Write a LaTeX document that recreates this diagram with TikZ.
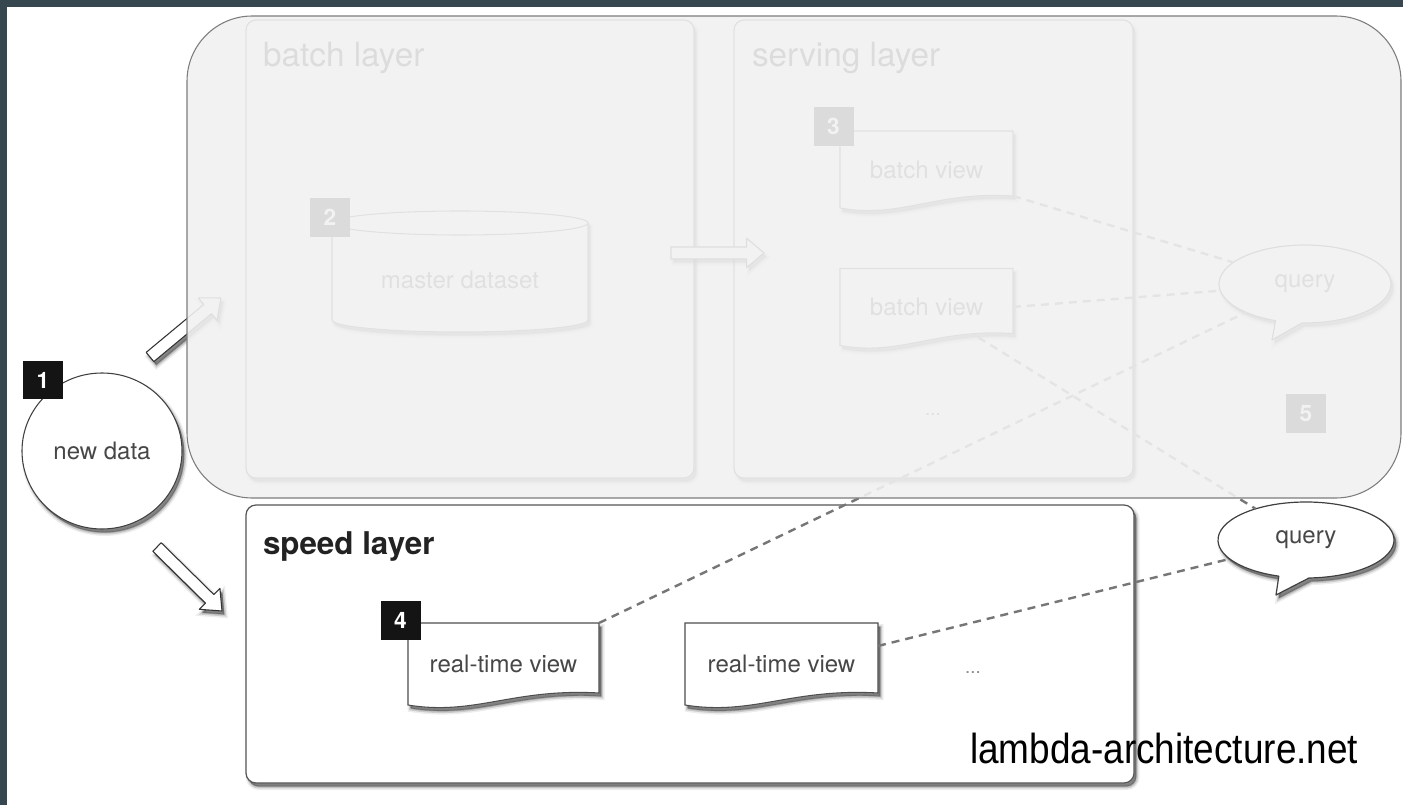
\documentclass[tikz,border=0pt]{standalone}
\usepackage{graphicx}
\usepackage{fontspec}
\setmainfont{TeX Gyre Heros}
\newfontfamily\sitefont{Liberation Sans}
\usetikzlibrary{calc,shapes.geometric}

\pgfdeclarelayer{shapes}
\pgfdeclarelayer{veil}
\pgfsetlayers{shapes,main,veil}

\definecolor{band}{HTML}{37474F}
\definecolor{inkgray}{HTML}{474747}
\definecolor{inkdark}{HTML}{222222}
\definecolor{boxrim}{HTML}{555555}
\definecolor{docrim}{HTML}{4E4E4E}
\definecolor{dashgray}{HTML}{767676}
\definecolor{veilgray}{HTML}{F1F1F1}
\definecolor{veilrim}{HTML}{7D7D7D}

\tikzset{
  every node/.style={inner sep=0pt, outer sep=0pt},
  % soft drop shadow built from a few stacked translucent copies
  softshadow/.style={
    preaction={fill=black, fill opacity=0.07, draw=black, draw opacity=0.07,
      line width=4.5pt, transform canvas={xshift=2pt, yshift=-3pt}},
    preaction={fill=black, fill opacity=0.14, draw=black, draw opacity=0.14,
      line width=2.2pt, transform canvas={xshift=2pt, yshift=-3pt}},
    preaction={fill=black, fill opacity=0.32,
      transform canvas={xshift=1.7pt, yshift=-2.5pt}}},
  layerbox/.style={draw=boxrim, line width=0.9pt, fill=white,
      rounded corners=7.5pt, softshadow},
  layertitle/.style={anchor=base west, font=\fontsize{25}{25}\selectfont, text=inkdark},
  labeltext/.style={font=\fontsize{18}{20}\selectfont, text=inkgray},
  docnode/.style 2 args={minimum width=#1, minimum height=#2, labeltext},
  docframe/.style={draw=docrim, line width=0.8pt, fill=white, softshadow},
  badge/.style={fill=black!92, text=white, font=\bfseries\fontsize{17}{17}\selectfont,
      minimum width=30pt, minimum height=29pt},
  dashline/.style={draw=dashgray, line width=1.8pt, dash pattern=on 6pt off 4.5pt},
  fatarrow/.style={draw=black!80, line width=0.8pt, fill=white, line join=round, softshadow},
  bubble/.style={draw=black!75, line width=0.9pt, fill=white, line join=round, softshadow},
  cylframe/.style={draw=docrim, line width=0.8pt, fill=white, softshadow},
  veil/.style={fill=veilgray, fill opacity=0.9, draw=veilrim, line width=0.8pt,
      rounded corners=49pt},
}

% document outline with a wavy lower edge, drawn round a named node
\newcommand\docoutline[1]{%
  \path[docframe] (#1.north west) -- (#1.north east) -- ($(#1.south east)+(0,-12)$)
    .. controls ($(#1.south east)!0.45!(#1.south west)+(0,-17)$)
    and ($(#1.south west)!0.35!(#1.south east)+(0,11)$) .. (#1.south west) -- cycle;}

% hollow block arrow from #1 (tail) to #2 (tip)
\newcommand\blockarrow[2]{%
  \coordinate (fa-h) at ($(#2)!13pt!(#1)$);
  \path[fatarrow] ($(#1)!4.5pt!90:(#2)$) -- ($(fa-h)!4.5pt!90:(#2)$)
    -- ($(fa-h)!11pt!90:(#2)$) -- (#2) -- ($(fa-h)!11pt!-90:(#2)$)
    -- ($(fa-h)!4.5pt!-90:(#2)$) -- ($(#1)!4.5pt!-90:(#2)$) -- cycle;}

\begin{document}
\begin{tikzpicture}[x=0.75pt, y=-0.75pt]
\useasboundingbox (0,0) rectangle (1403,805);

\begin{pgfonlayer}{shapes}
  \fill[white] (0,0) rectangle (1403,805);
  \fill[band] (0,0) rectangle (1403,7);
  \fill[band] (0,0) rectangle (7,805);
  % the three layers
  \node[layerbox, minimum width=336pt, minimum height=343.5pt] (batch) at (470,249) {};
  \node[layerbox, minimum width=299.25pt, minimum height=343.5pt] (serving) at (933.5,249) {};
  \node[layerbox, minimum width=666pt, minimum height=208.5pt] (speed) at (690,644) {};
  % master dataset cylinder
  \path[cylframe] (332,223) -- (332,320)
    arc[start angle=180, end angle=360, x radius=96pt, y radius=9pt] -- (588,223)
    arc[start angle=0, end angle=180, x radius=96pt, y radius=9pt] -- cycle;
  \draw[docrim, line width=0.8pt] (332,223)
    arc[start angle=180, end angle=360, x radius=96pt, y radius=9pt];
\end{pgfonlayer}

% layer titles
\node[layertitle] (batchT) at (263,67) {batch layer};
\node[layertitle] (servingT) at (752,67) {serving layer};
\node[layertitle, font=\bfseries\fontsize{23.5}{24}\selectfont] (speedT) at (263,554) {speed layer};

% batch layer content
\node[labeltext] (ds) at (460,280) {master dataset};
\node[badge] (b2) at (330,217.5) {2};

% serving layer content
\node[docnode={129.75pt}{57.75pt}] (bv1) at (926.5,169.5) {batch view};
\node[docnode={129.75pt}{57.75pt}] (bv2) at (926.5,307) {batch view};
\node[labeltext, font=\fontsize{14}{14}\selectfont] (moreSv) at (933,415) {...};
\node[badge] (b3) at (833.5,126.5) {3};

% speed layer content
\node[docnode={143.25pt}{61.5pt}] (rtv1) at (503.5,664) {real-time view};
\node[docnode={144.75pt}{61.5pt}] (rtv2) at (781.5,664) {real-time view};
\node[labeltext, font=\fontsize{14}{14}\selectfont, text=black!45] (moreSp) at (973,673) {...};

\begin{pgfonlayer}{shapes}
  \docoutline{bv1}
  \docoutline{bv2}
  \docoutline{rtv1}
  \docoutline{rtv2}
\end{pgfonlayer}
\node[badge] (b4) at (400.5,620.5) {4};

% query bubbles
\coordinate (qac) at (1305,284);
\coordinate (qbc) at (1306,540);
\begin{pgfonlayer}{shapes}
  \path[bubble] ($(qac)+(268:64.5pt and 29.25pt)$)
    arc[start angle=268, end angle=610, x radius=64.5pt, y radius=29.25pt]
    -- ($(qac)+(-33,56)$) -- cycle;
  \path[bubble] ($(qbc)+(272:66pt and 28.5pt)$)
    arc[start angle=272, end angle=612, x radius=66pt, y radius=28.5pt]
    -- ($(qbc)+(-30,55)$) -- cycle;
\end{pgfonlayer}
\node[ellipse, minimum width=129pt, minimum height=58.5pt, labeltext] (qa) at (qac) {query};
\node[ellipse, minimum width=132pt, minimum height=57pt, labeltext] (qb) at (qbc) {query};
\node[badge] (b5) at (1306,413.5) {5};

% query connections
\draw[dashline] ($(bv1.south east)+(0,-12)$) -- (qa);
\draw[dashline] (bv2.east) -- (qa);
\draw[dashline] ($(bv2.south)!0.6!(bv2.south east)+(0,-8)$) -- (qb);
\draw[dashline] (rtv1.north east) -- (qa);
\draw[dashline] ($(rtv2.north east)!0.28!(rtv2.south east)$) -- (qb);

% new data and its two feeds
\node[ellipse, draw=black!75, fill=white, line width=0.8pt, minimum width=120pt,
      minimum height=117pt, softshadow, labeltext] (nd) at (102,451) {new data};
\node[badge] (b1) at (43,380) {1};

\coordinate (ndUp) at (150,357);
\coordinate (batchIn) at (221,298);
\coordinate (ndDown) at (157,547);
\coordinate (speedIn) at (222,611);
\coordinate (batchOut) at (671,253);
\coordinate (servingIn) at (764,253);
\blockarrow{ndUp}{batchIn}
\blockarrow{ndDown}{speedIn}
\blockarrow{batchOut}{servingIn}

% faded veil over batch and serving layers
\begin{pgfonlayer}{veil}
  \path[veil] (187,16) rectangle (1401,498);
\end{pgfonlayer}

\node[anchor=base west, font=\sitefont\fontsize{31.5}{32}\selectfont, text=black] (site)
  at (970,763) {\scalebox{0.88}[1]{lambda-architecture.net}};
\end{tikzpicture}
\end{document}
